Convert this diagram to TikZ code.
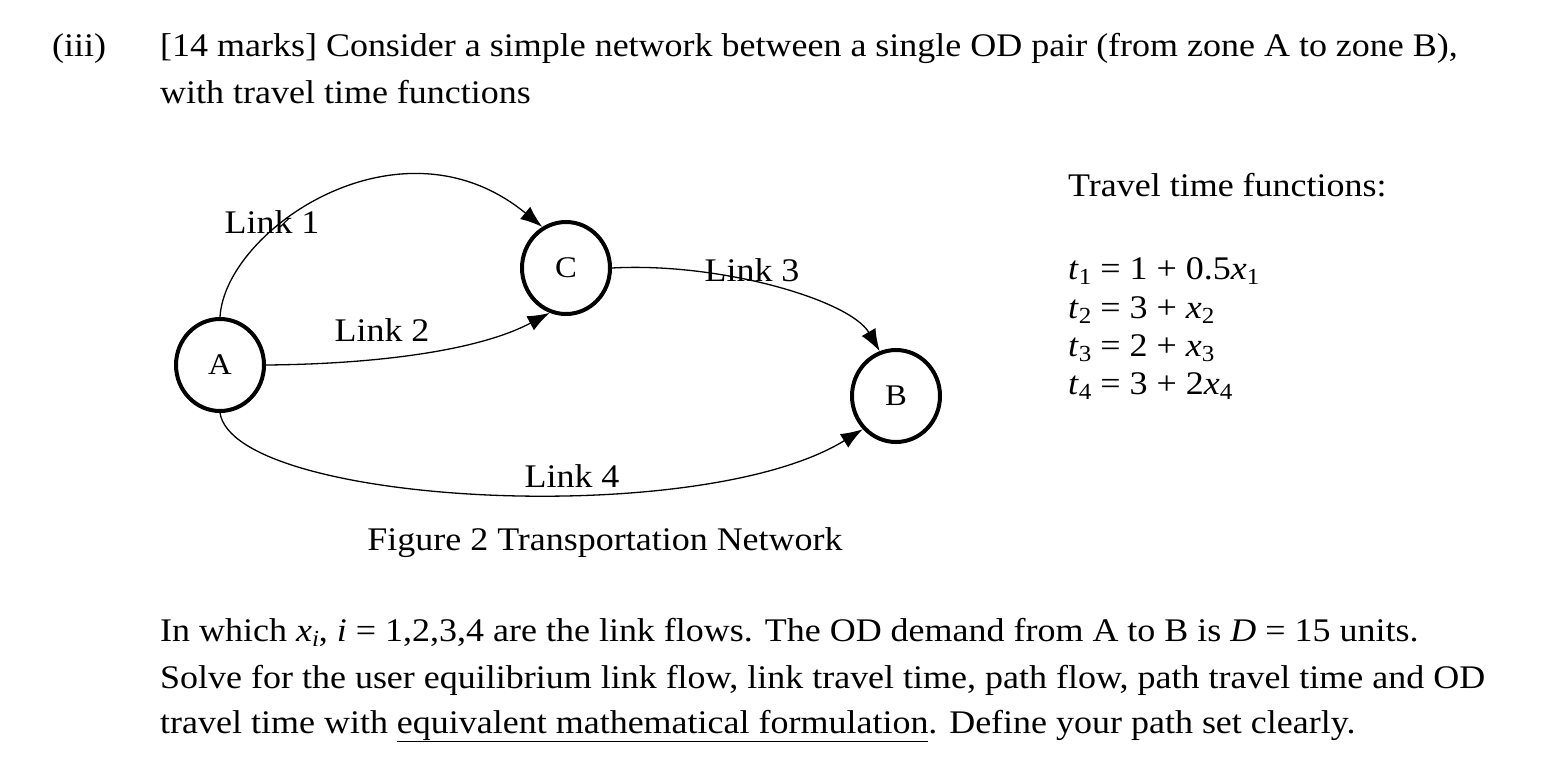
\documentclass[tikz,border=0pt]{standalone}
\usepackage{fontspec}
\setmainfont[FakeStretch=1.09]{Liberation Serif}
\usetikzlibrary{arrows.meta,shapes.geometric}
\newcommand{\sbx}[1]{\raisebox{-5pt}{\fontsize{23}{23}\selectfont #1}}
\newcommand{\vv}[1]{\textit{#1}}
\begin{document}
\begin{tikzpicture}[x=1pt,y=-1pt,
  txt/.style={font=\fontsize{33}{38}\selectfont,inner sep=0,anchor=base west},
  vtx/.style={draw,line width=4pt,ellipse,minimum width=88,minimum height=92,font=\fontsize{30}{36}\selectfont},
  lnk/.style={line width=1.3pt,-{Latex[length=22,width=16]}},
  lbl/.style={font=\fontsize{33}{38}\selectfont,inner sep=0}]
\useasboundingbox (0,0) rectangle (1568,774);
\node[txt] (t0) at (52,56) {(iii)};
\node[txt] (t1) at (160,56) {[14 marks] Consider a simple network between a single OD pair (from zone A to zone B),};
\node[txt] (t2) at (160,103) {with travel time functions};
\node[vtx] (A) at (220,365) {A};
\node[vtx] (C) at (566,268) {C};
\node[vtx] (B) at (896,396) {B};
\draw[lnk] (A.north) .. controls (225,230) and (400,110) .. (C.120);
\draw[lnk] (A.east) .. controls (380,364) and (480,350) .. (C.-110);
\draw[lnk] (C.east) .. controls (720,262) and (850,300) .. (B.110);
\draw[lnk] (A.south) .. controls (235,505) and (700,530) .. (B.-135);
\node[lbl] (l1) at (272,222) {Link 1};
\node[lbl] (l2) at (382,330) {Link 2};
\node[lbl] (l3) at (752,270) {Link 3};
\node[lbl] (l4) at (572,476) {Link 4};
\node[lbl] (cap) at (605,543) {Figure 2 Transportation Network};
\node[txt] (tt) at (1068,196) {Travel time functions:};
\node[txt] (e1) at (1068,279) {\vv{t}\sbx{1} = 1 + 0.5\vv{x}\sbx{1}};
\node[txt] (e2) at (1068,318) {\vv{t}\sbx{2} = 3 + \vv{x}\sbx{2}};
\node[txt] (e3) at (1068,356) {\vv{t}\sbx{3} = 2 + \vv{x}\sbx{3}};
\node[txt] (e4) at (1068,394) {\vv{t}\sbx{4} = 3 + 2\vv{x}\sbx{4}};
\node[txt] (b1) at (160,641) {In which \vv{x}\sbx{\vv{i}}, \vv{i} = 1,2,3,4 are the link flows. The OD demand from A to B is \vv{D} = 15 units.};
\node[txt] (b2) at (160,688) {Solve for the user equilibrium link flow, link travel time, path flow, path travel time and OD};
\node[txt] (b3) at (160,733) {travel time with \underline{equivalent mathematical formulation}. Define your path set clearly.};
\end{tikzpicture}
\end{document}
